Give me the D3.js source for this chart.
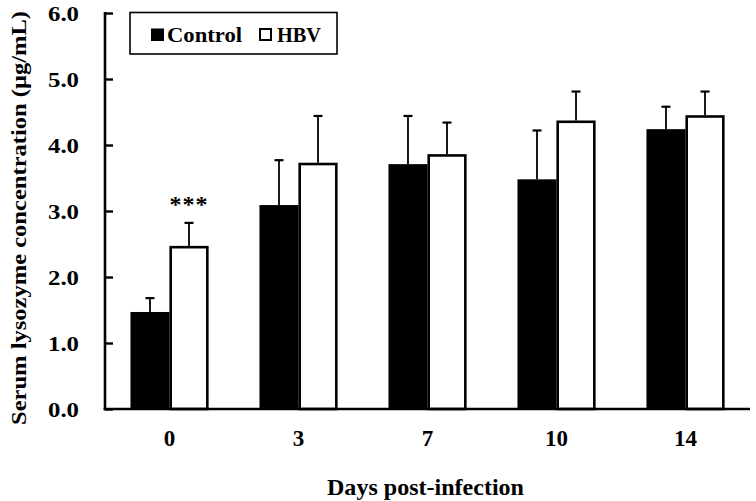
<!DOCTYPE html>
<html>
<head>
<meta charset="utf-8">
<script src="https://cdn.jsdelivr.net/npm/d3@7"></script>
<style>
  html, body { margin: 0; padding: 0; background: #fff; }
  svg { display: block; }
  text { font-family: "Liberation Serif", "Times New Roman", serif; font-weight: bold; fill: #000; }
</style>
</head>
<body>
<svg id="chart" width="756" height="501"></svg>
<script>
// ---- data ----
const categories = ["0", "3", "7", "10", "14"];
const seriesNames = ["Control", "HBV"];
const controlValues = [1.47, 3.09, 3.71, 3.48, 4.24];
const controlErrors = [0.21, 0.68, 0.73, 0.74, 0.34];
const hbvValues = [2.47, 3.73, 3.86, 4.37, 4.45];
const hbvErrors = [0.35, 0.71, 0.48, 0.44, 0.36];
const yTickValues = [0, 1, 2, 3, 4, 5, 6];
const significance = [{ category: "0", series: "HBV", label: "***" }];

const svg = d3.select("#chart");
const plotLeft = 105, plotRight = 750, plotTop = 13, plotBottom = 409;

const x0 = d3.scaleBand().domain(categories).range([plotLeft, plotRight])
  .paddingInner(0.395).paddingOuter(0.1975);
const x1 = d3.scaleBand().domain(seriesNames).range([0, x0.bandwidth()]);
const y = d3.scaleLinear().domain([0, 6]).range([plotBottom, plotTop]);

const rows = categories.map((c, i) => ({
  category: c,
  values: [
    { series: "Control", value: controlValues[i], err: controlErrors[i] },
    { series: "HBV", value: hbvValues[i], err: hbvErrors[i] }
  ]
}));

const groups = svg.append("g").selectAll("g").data(rows).join("g")
  .attr("transform", d => `translate(${x0(d.category)},0)`);

// error bars
groups.selectAll("g.err").data(d => d.values).join("g").attr("class", "err")
  .each(function (d) {
    const g = d3.select(this);
    const cx = x1(d.series) + x1.bandwidth() / 2;
    g.append("line").attr("x1", cx).attr("x2", cx)
      .attr("y1", y(d.value)).attr("y2", y(d.value + d.err))
      .attr("stroke", "#000").attr("stroke-width", 1.8);
    g.append("line").attr("x1", cx - 4.5).attr("x2", cx + 4.5)
      .attr("y1", y(d.value + d.err)).attr("y2", y(d.value + d.err))
      .attr("stroke", "#000").attr("stroke-width", 2.2);
  });

// bars
groups.selectAll("rect").data(d => d.values).join("rect")
  .attr("x", d => d.series === "HBV" ? x1(d.series) + 1.2 : x1(d.series))
  .attr("width", d => d.series === "HBV" ? x1.bandwidth() - 2.4 : x1.bandwidth())
  .attr("y", d => d.series === "HBV" ? y(d.value) + 1.2 : y(d.value))
  .attr("height", d => d.series === "HBV" ? y(0) - y(d.value) - 1.2 : y(0) - y(d.value))
  .attr("fill", d => d.series === "HBV" ? "#fff" : "#000")
  .attr("stroke", d => d.series === "HBV" ? "#000" : "none")
  .attr("stroke-width", 2.6);

// significance marks
significance.forEach(s => {
  const i = categories.indexOf(s.category);
  const v = s.series === "HBV" ? hbvValues[i] + hbvErrors[i] : controlValues[i] + controlErrors[i];
  svg.append("text")
    .attr("x", x0(s.category) + x1(s.series) + x1.bandwidth() / 2)
    .attr("y", y(v) - 11)
    .attr("text-anchor", "middle")
    .attr("font-size", 24)
    .attr("letter-spacing", 1)
    .text(s.label);
});

// y axis
const yAxis = d3.axisRight(y).tickValues(yTickValues).tickSize(8).tickFormat("");
const yg = svg.append("g").attr("transform", `translate(${plotLeft},0)`).call(yAxis);
yg.select(".domain").remove();
yg.selectAll(".tick line").attr("stroke", "#000").attr("stroke-width", 2.4);
svg.append("line").attr("x1", plotLeft).attr("x2", plotLeft).attr("y1", plotTop - 1).attr("y2", plotBottom + 1.2)
  .attr("stroke", "#000").attr("stroke-width", 2.6);

yTickValues.forEach(v => {
  svg.append("text").attr("x", 79).attr("y", y(v) + 7.5)
    .attr("text-anchor", "end").attr("font-size", 20)
    .attr("textLength", 31).attr("lengthAdjust", "spacingAndGlyphs")
    .text(d3.format(".1f")(v));
});

// x axis
svg.append("line").attr("x1", plotLeft - 1.3).attr("x2", plotRight).attr("y1", plotBottom).attr("y2", plotBottom)
  .attr("stroke", "#000").attr("stroke-width", 2.6);
const xAxis = d3.axisBottom(x0).tickSize(0).tickPadding(0);
const xg = svg.append("g").attr("transform", `translate(0,${plotBottom})`).call(xAxis);
xg.select(".domain").remove();
xg.selectAll(".tick text").attr("y", 36.5).attr("dy", 0)
  .attr("font-size", 23).attr("font-family", "Liberation Serif").attr("font-weight", "bold").attr("fill", "#000");

// axis titles
svg.append("text").attr("x", 425.5).attr("y", 494.5).attr("text-anchor", "middle")
  .attr("font-size", 23).attr("textLength", 197).attr("lengthAdjust", "spacingAndGlyphs")
  .text("Days post-infection");
svg.append("text").attr("transform", "translate(25.5,218) rotate(-90)")
  .attr("text-anchor", "middle").attr("font-size", 22)
  .attr("textLength", 414).attr("lengthAdjust", "spacingAndGlyphs")
  .text("Serum lysozyme concentration (μg/mL)");

// legend
const lg = svg.append("g");
lg.append("rect").attr("x", 130).attr("y", 12.5).attr("width", 207).attr("height", 41.5)
  .attr("fill", "#fff").attr("stroke", "#000").attr("stroke-width", 1.6);
const legendItems = [
  { name: seriesNames[0], sx: 151, tx: 167, tw: 75 },
  { name: seriesNames[1], sx: 259, tx: 277, tw: 44 }
];
legendItems.forEach(it => {
  const isHbv = it.name === "HBV";
  lg.append("rect").attr("x", it.sx).attr("y", 28.5)
    .attr("width", isHbv ? 11 : 13).attr("height", isHbv ? 11 : 12.5)
    .attr("transform", isHbv ? "translate(1,0.5)" : null)
    .attr("fill", isHbv ? "#fff" : "#000")
    .attr("stroke", isHbv ? "#000" : "none").attr("stroke-width", 2);
  lg.append("text").attr("x", it.tx).attr("y", 41.5).attr("font-size", 21)
    .attr("textLength", it.tw).attr("lengthAdjust", "spacingAndGlyphs")
    .text(it.name);
});
</script>
</body>
</html>
